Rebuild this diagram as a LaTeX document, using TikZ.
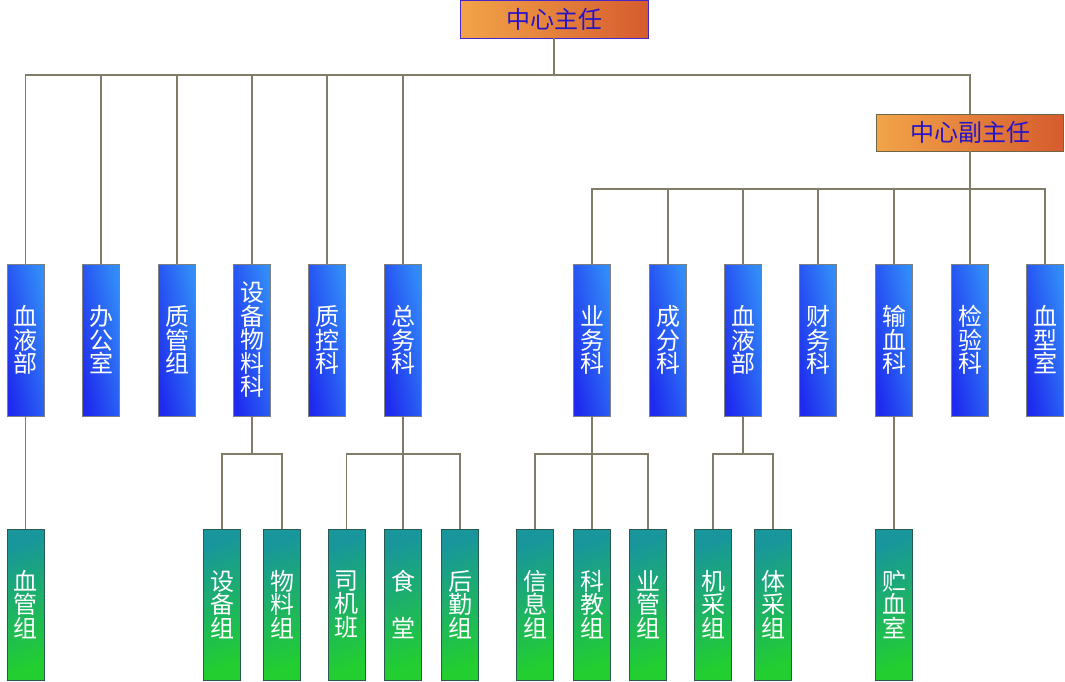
\documentclass[tikz,border=0pt]{standalone}
\usepackage{fontspec}
\newfontfamily\cjk{Noto Sans CJK SC}
\usetikzlibrary{calc}
\definecolor{linecol}{RGB}{128,124,104}
\definecolor{orlight}{RGB}{242,164,72}
\definecolor{ordark}{RGB}{214,92,46}
\definecolor{chieftext}{RGB}{40,20,200}
\definecolor{bluedark}{RGB}{30,42,238}
\definecolor{bluelight}{RGB}{50,140,248}
\definecolor{tealtop}{RGB}{24,150,156}
\definecolor{greenbot}{RGB}{34,206,48}
\tikzset{
	chief/.style={draw={rgb,255:red,70;green,40;blue,200}, line width=0.8pt, left color=orlight, right color=ordark, minimum width=188pt, minimum height=38pt, inner sep=0pt, text=chieftext, font=\cjk\fontsize{24}{24}\selectfont},
	deputy/.style={chief, draw={rgb,255:red,110;green,100;blue,70}, minimum width=187pt, minimum height=37pt},
	dept/.style={draw=gray, line width=0.8pt, bottom color=bluedark, top color=bluelight, shading angle=-78, minimum width=37pt, minimum height=152pt, inner sep=0pt, align=center, text=white, font=\cjk\fontsize{24}{23.5}\selectfont},
	grp/.style={dept, draw={rgb,255:red,40;green,90;blue,80}, top color=tealtop, bottom color=greenbot, shading angle=20, minimum height=151pt},
	link/.style={draw=linecol, line width=1.2pt}
}
\begin{document}
\begin{tikzpicture}[x=1pt,y=-1pt]
			%%%%% START %%%%%
			\useasboundingbox (0,0) rectangle (1065,681);
			
			\node[chief] (zr) at (554, 19) {中心主任};
			\node[deputy] (fzr) at (970, 132.5) {中心副主任};
			
			\node[dept] (d1) at (25.5, 340) {血\\液\\部};
			\node[dept] (d2) at (101, 340) {办\\公\\室};
			\node[dept] (d3) at (177, 340) {质\\管\\组};
			\node[dept] (d4) at (252, 340) {设\\备\\物\\料\\科};
			\node[dept] (d5) at (327, 340) {质\\控\\科};
			\node[dept] (d6) at (403, 340) {总\\务\\科};
			\node[dept] (d7) at (592, 340) {业\\务\\科};
			\node[dept] (d8) at (668, 340) {成\\分\\科};
			\node[dept] (d9) at (743, 340) {血\\液\\部};
			\node[dept] (d10) at (818, 340) {财\\务\\科};
			\node[dept] (d11) at (894, 340) {输\\血\\科};
			\node[dept] (d12) at (970, 340) {检\\验\\科};
			\node[dept] (d13) at (1045, 340) {血\\型\\室};
			
			\node[grp] (g1) at (25.5, 604.5) {血\\管\\组};
			\node[grp] (g2) at (222, 604.5) {设\\备\\组};
			\node[grp] (g3) at (282, 604.5) {物\\料\\组};
			\node[grp] (g4) at (346.5, 604.5) {司\\机\\班};
			\node[grp] (g5) at (403, 604.5) {食\\ \\堂};
			\node[grp] (g6) at (460, 604.5) {后\\勤\\组};
			\node[grp] (g7) at (535, 604.5) {信\\息\\组};
			\node[grp] (g8) at (592, 604.5) {科\\教\\组};
			\node[grp] (g9) at (648, 604.5) {业\\管\\组};
			\node[grp] (g10) at (713, 604.5) {机\\采\\组};
			\node[grp] (g11) at (773, 604.5) {体\\采\\组};
			\node[grp] (g12) at (894, 604.5) {贮\\血\\室};
			
			\coordinate (bus1) at (554, 75);
			\coordinate (bus2) at (970, 189);
			\coordinate (bus3) at (0, 454);
			
			\draw[link] (zr.south) -- (bus1);
			\draw[link] (d1.north) -- (d1.north |- bus1) -| (fzr.north);
			\draw[link] (d2.north) -- (d2.north |- bus1);
			\draw[link] (d3.north) -- (d3.north |- bus1);
			\draw[link] (d4.north) -- (d4.north |- bus1);
			\draw[link] (d5.north) -- (d5.north |- bus1);
			\draw[link] (d6.north) -- (d6.north |- bus1);
			
			\draw[link] (fzr.south) -- (bus2);
			\draw[link] (d7.north) -- (d7.north |- bus2) -| (d13.north);
			\draw[link] (d8.north) -- (d8.north |- bus2);
			\draw[link] (d9.north) -- (d9.north |- bus2);
			\draw[link] (d10.north) -- (d10.north |- bus2);
			\draw[link] (d11.north) -- (d11.north |- bus2);
			\draw[link] (d12.north) -- (d12.north |- bus2);
			
			\draw[link] (d1.south) -- (g1.north);
			\draw[link] (d11.south) -- (g12.north);
			
			\draw[link] (d4.south) -- (d4.south |- bus3);
			\draw[link] (g2.north) -- (g2.north |- bus3) -| (g3.north);
			
			\draw[link] (d6.south) -- (g5.north);
			\draw[link] (g4.north) -- (g4.north |- bus3) -| (g6.north);
			
			\draw[link] (d7.south) -- (g8.north);
			\draw[link] (g7.north) -- (g7.north |- bus3) -| (g9.north);
			
			\draw[link] (d9.south) -- (d9.south |- bus3);
			\draw[link] (g10.north) -- (g10.north |- bus3) -| (g11.north);
			%%%%% END %%%%%
\end{tikzpicture}
\end{document}
